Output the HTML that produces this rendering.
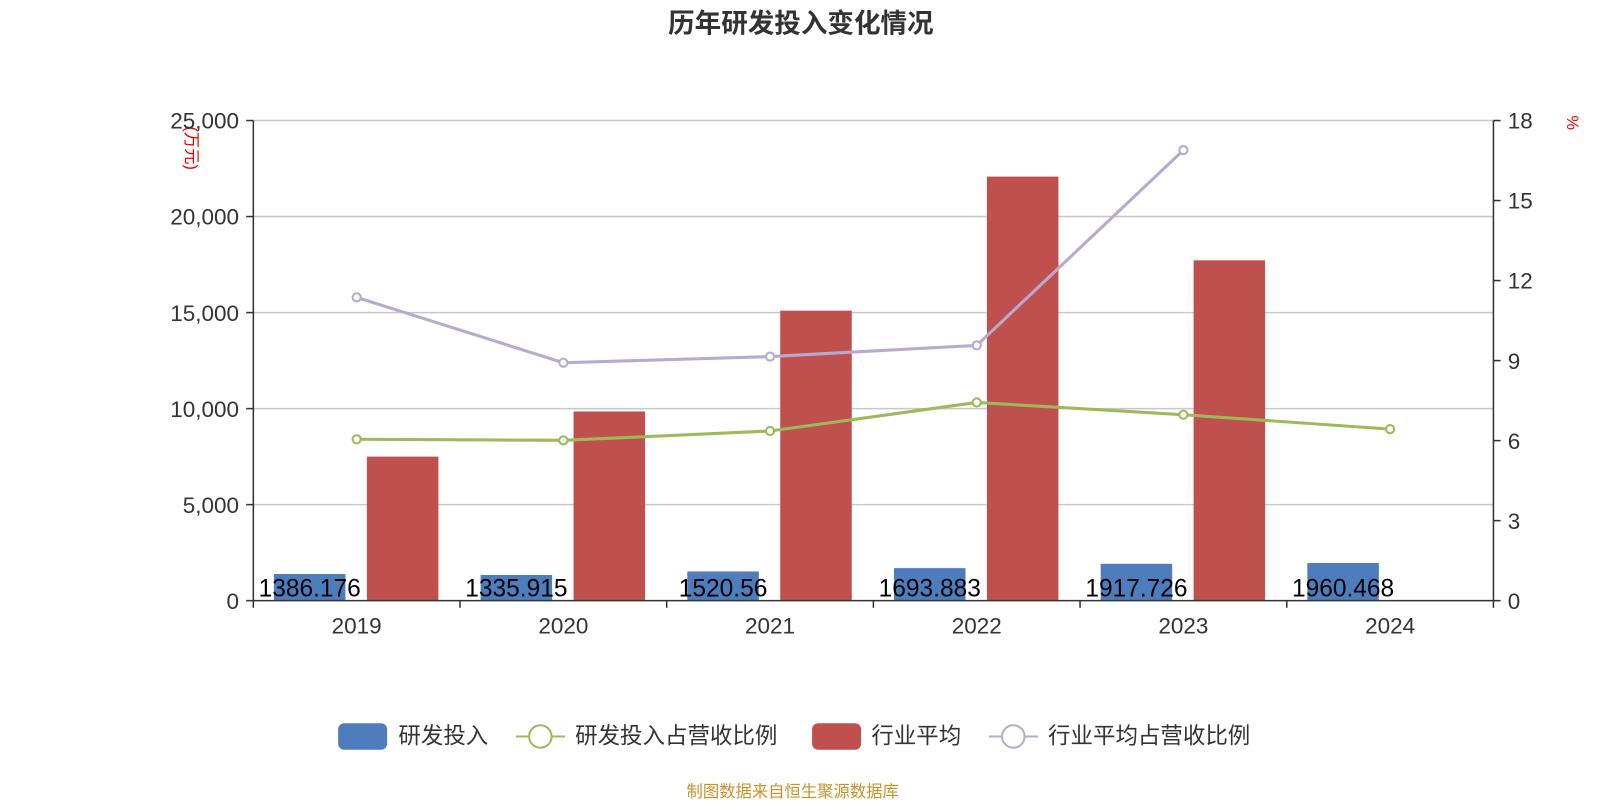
<!DOCTYPE html>
<html><head><meta charset="utf-8"><style>
body{margin:0;background:#fff;}
svg{font-family:"Liberation Sans","Noto Sans CJK SC",sans-serif;}
</style></head><body>
<svg id="c" width="1600" height="800" xmlns="http://www.w3.org/2000/svg">
<g transform="scale(1.0215)">
<text x="784" y="32" text-anchor="middle" font-size="26" font-weight="bold" fill="#333">历年研发投入变化情况</text>
<text transform="translate(182,145) rotate(90)" text-anchor="middle" font-size="16" fill="#e00">(万元)</text>
<text transform="translate(1534,120) rotate(90)" text-anchor="middle" font-size="16" fill="#e00">%</text>
<g id="grid"></g><g id="bars"></g><g id="lines"></g><g id="axes"></g>
<g>
<rect x="331" y="708" width="48" height="26" rx="6" fill="#4e7dbd"/>
<text x="390" y="728" font-size="22" fill="#333">研发投入</text>
<line x1="505" y1="721" x2="553" y2="721" stroke="#9bbb59" stroke-width="2"/>
<circle cx="529" cy="721" r="11" fill="#fff" stroke="#9bbb59" stroke-width="2"/>
<text x="563" y="728" font-size="22" fill="#333">研发投入占营收比例</text>
<rect x="795" y="708" width="48" height="26" rx="6" fill="#c0504d"/>
<text x="853" y="728" font-size="22" fill="#333">行业平均</text>
<line x1="968" y1="721" x2="1016" y2="721" stroke="#b7a9cf" stroke-width="2"/>
<circle cx="992" cy="721" r="11" fill="#fff" stroke="#b7a9cf" stroke-width="2"/>
<text x="1026" y="728" font-size="22" fill="#333">行业平均占营收比例</text>
</g>
<text x="776" y="780" text-anchor="middle" font-size="16" fill="#c8922a">制图数据来自恒生聚源数据库</text>
</g>
</svg>
<script>
const categories=["2019","2020","2021","2022","2023","2024"];
const rdValues=[1386.176,1335.915,1520.56,1693.883,1917.726,1960.468];
const rdLabels=["1386.176","1335.915","1520.56","1693.883","1917.726","1960.468"];
const industryValues=[7500,9850,15100,22080,17720,null];
const rdRatio=[6.05,6.01,6.36,7.43,6.97,6.43];
const industryRatio=[11.37,8.92,9.15,9.57,16.89,null];
const leftTicks=[0,5000,10000,15000,20000,25000];
const rightTicks=[0,3,6,9,12,15,18];
const NS="http://www.w3.org/2000/svg";
const L=248,R=1462,T=118,B=588;
const bw=(R-L)/categories.length;
const yL=v=>B-v/25000*(B-T);
const yR=v=>B-v/18*(B-T);
const xC=i=>L+bw*(i+0.5);
function mk(tag,attrs,parent,txt){const e=document.createElementNS(NS,tag);for(const k in attrs)e.setAttribute(k,attrs[k]);if(txt!=null)e.textContent=txt;document.getElementById(parent).appendChild(e);return e;}
leftTicks.forEach((t,i)=>{
 if(i>0){const g=mk("line",{x1:L,x2:R,y1:yL(t),y2:yL(t),stroke:"#c8c8c8","stroke-width":1.5},"grid");
 
 }
 const tx=mk("text",{x:L-14,y:yL(t)+8,"text-anchor":"end","font-size":22,fill:"#333"},"axes",t.toLocaleString("en-US"));
 
 
 mk("line",{x1:L-7,x2:L,y1:yL(t),y2:yL(t),stroke:"#333","stroke-width":1.5},"axes");
});
rightTicks.forEach(t=>{
 const tx=mk("text",{x:R+14,y:yR(t)+8,"font-size":22,fill:"#333"},"axes",String(t));
 
 
 mk("line",{x1:R,x2:R+7,y1:yR(t),y2:yR(t),stroke:"#333","stroke-width":1.5},"axes");
});
mk("line",{x1:L,x2:L,y1:T,y2:B,stroke:"#333","stroke-width":1.5},"axes");
mk("line",{x1:R,x2:R,y1:T,y2:B,stroke:"#333","stroke-width":1.5},"axes");
mk("line",{x1:L,x2:R,y1:B,y2:B,stroke:"#333","stroke-width":1.5},"axes");
for(let i=0;i<=categories.length;i++)mk("line",{x1:L+bw*i,x2:L+bw*i,y1:B,y2:B+7,stroke:"#333","stroke-width":1.5},"axes");
categories.forEach((c,i)=>{
 const tx=mk("text",{x:xC(i),y:B+32,"text-anchor":"middle","font-size":22,fill:"#333"},"axes",c);
 
 
 const b=mk("rect",{x:xC(i)-81,y:yL(rdValues[i]),width:70,height:B-yL(rdValues[i]),fill:"#4e7dbd"},"bars");
 
 
 if(industryValues[i]!=null){
  const r=mk("rect",{x:xC(i)+10,y:yL(industryValues[i]),width:70,height:B-yL(industryValues[i]),fill:"#c0504d"},"bars");
  
  
 }
 const lb=mk("text",{x:xC(i)-46,y:B-4,"text-anchor":"middle","font-size":24,fill:"#000"},"bars",rdLabels[i]);
 
 
});
function series(vals,color,name){
 const pts=[];vals.forEach((v,i)=>{if(v!=null)pts.push([xC(i),yR(v)]);});
 const p=mk("polyline",{points:pts.map(p=>p.join(",")).join(" "),fill:"none",stroke:color,"stroke-width":3},"lines");
 
 
 pts.forEach(q=>{const c=mk("circle",{cx:q[0],cy:q[1],r:4,fill:"#fff",stroke:color,"stroke-width":2},"lines");
 
 });
}
series(rdRatio,"#9bbb59","rd-ratio");
series(industryRatio,"#b7a9cf","industry-ratio");
</script>
</body></html>
